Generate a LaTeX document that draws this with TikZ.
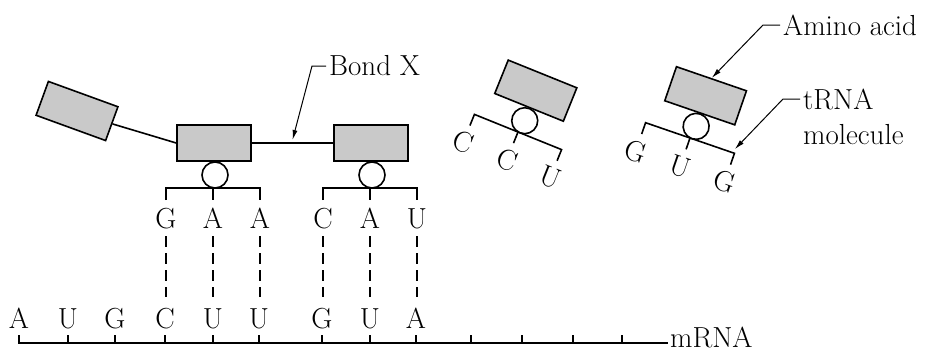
\documentclass[tikz,border=0pt]{standalone}
\usepackage{fontspec}
\usepackage{tikz}
\usetikzlibrary{positioning}
\usetikzlibrary{calc}
\usetikzlibrary{arrows.meta}

\begin{document}
\begin{tikzpicture}[x=1pt, y=-1pt, >={Latex[length=10pt,width=5pt]},
	every node/.style={font=\fontsize{29}{34}\selectfont},
	acid/.style={rectangle,draw,line width=1.6pt,fill=gray!42,minimum width=74pt,minimum height=36pt,inner sep=0pt},
	loopc/.style={circle,draw,line width=1.6pt,fill=white,minimum size=26pt,inner sep=0pt},
	nucl/.style={inner sep=1pt,text height=19pt,text depth=0pt,anchor=base},
	strand/.style={line width=1.6pt},
	hbond/.style={line width=1.6pt,dash pattern=on 11pt off 6pt,shorten <=7pt,shorten >=11pt},
	leader/.style={->,line width=1pt}]
	\useasboundingbox (0,0) rectangle (931,351);
	% growing chain
	\node (aa0) at (77,111) [acid,rotate=-20] {};
	\foreach \n/\ox/\oy/\ang/\p/\q/\r in {1/213/188/0/G/A/A, 2/370/188/0/C/A/U, 3/518/132/-22/C/C/U, 4/690/138/-19/G/U/G}{
		\begin{scope}[shift={(\ox,\oy)}, rotate=\ang, transform shape]
			\node (aa\n) at (1,-45) [acid] {};
			\draw[strand] (-47,12) -- (-47,0) -- (47,0) -- (47,12);
			\draw[strand] (0,0) -- (0,12);
			\node (ring\n) at (2,-13) [loopc] {};
			\node (ac\n-1) at (-47,40) [nucl] {\p};
			\node (ac\n-2) at (0,40) [nucl] {\q};
			\node (ac\n-3) at (47,40) [nucl] {\r};
			\coordinate (tip\n) at (46,-4);
		\end{scope}
	}
	\draw[strand] (aa0.east) -- (aa1.west);
	\draw[strand] (aa1.east) -- (aa2.west);
	% mRNA strand
	\coordinate (m0) at (18,343);
	\coordinate (m1) at (668,343);
	\draw[strand] (m0) -- (m1);
	\foreach \x in {19,68,115,165,213,259,322,370,416,471,522,573,622}
		\draw[strand] (\x,343) -- (\x,335);
	\foreach \x/\l [count=\i] in {19/A,68/U,115/G,165/C,213/U,259/U,322/G,370/U,416/A}
		\node (cod\i) at (\x,328) [nucl] {\l};
	\node (mrna) at ([yshift=-4pt]m1) [anchor=base west,inner xsep=2pt,inner ysep=0pt] {mRNA};
	% base pairing
	\foreach \a/\c in {1-1/4,1-2/5,1-3/6,2-1/7,2-2/8,2-3/9}
		\draw[hbond] (ac\a.south) -- (ac\a.south |- cod\c.north);
	% labels
	\coordinate (bond) at ($(aa1.east)!0.5!(aa2.west)$);
	\node (bondx) at (326,66) [anchor=west,inner sep=3pt] {Bond X};
	\draw[leader] (bondx.west) -- ++(-14,0) -- ([yshift=3pt]bond);
	\node (amino) at (780,25) [anchor=west,inner sep=3pt] {Amino acid};
	\draw[leader] (amino.west) -- ++(-17,0) -- (aa4.north);
	\node (trna) at (800,99) [anchor=west,inner sep=3pt] {tRNA};
	\node (molec) at ([yshift=-35pt]trna.base west) [anchor=base west,inner sep=3pt] {molecule};
	\draw[leader] (trna.west) -- ++(-17,0) -- (tip4);
\end{tikzpicture}
\end{document}
